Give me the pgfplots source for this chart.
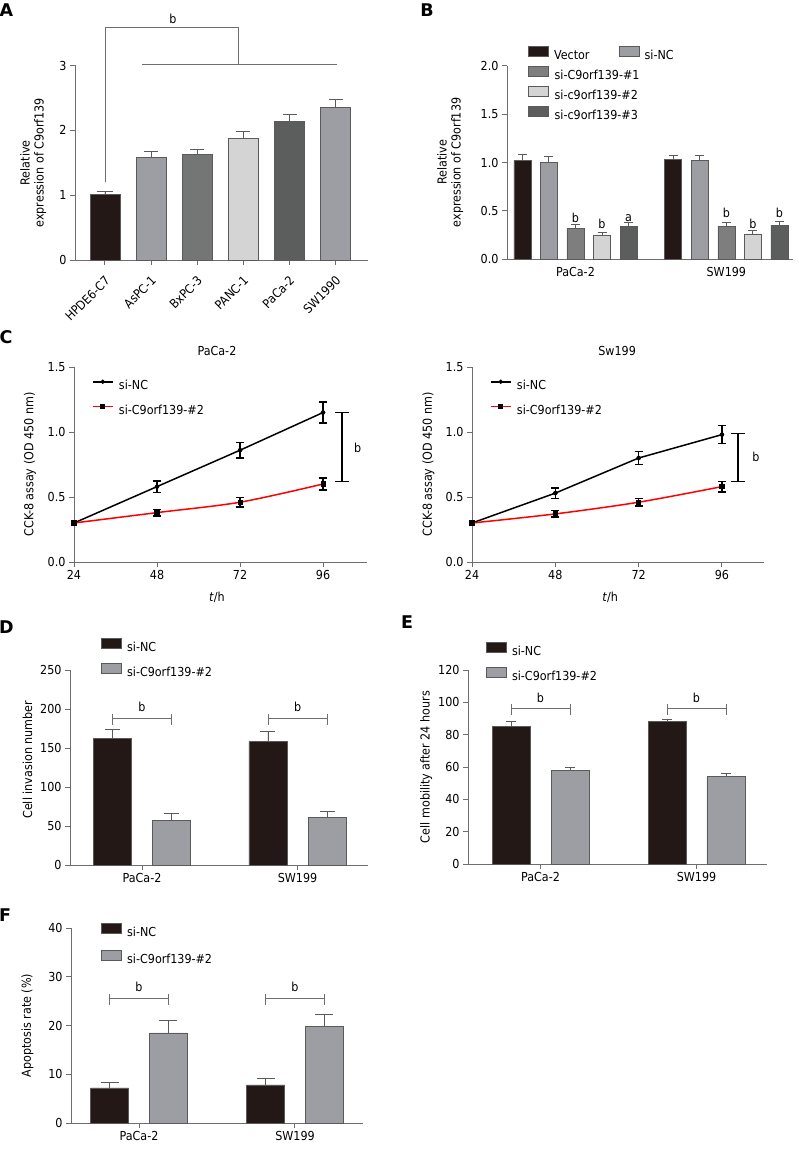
\documentclass[border=0pt]{standalone}
\usepackage{fontspec}
\setmainfont{DejaVu Sans Condensed}
\newfontfamily\panelfont{DejaVu Sans}
\usepackage{pgfplots}
\pgfplotsset{compat=1.18}

\definecolor{barblack}{HTML}{231815}
\definecolor{gmid}{HTML}{9D9EA3}
\definecolor{gdark1}{HTML}{747575}
\definecolor{glight}{HTML}{D4D4D4}
\definecolor{gdark2}{HTML}{5C5D5D}
\definecolor{gone}{HTML}{7E7E7E}
\definecolor{axgray}{HTML}{6E6E6E}
\definecolor{outl}{HTML}{5A5A5A}

\newcommand\tf{\fontsize{12.4}{14}\selectfont}
\newcommand\pf{\panelfont\bfseries\fontsize{17.5}{19}\selectfont}

\tikzset{brk/.style={draw=axgray, line width=0.9pt}}

\pgfplotsset{
 panel/.style={
  scale only axis, anchor=south west, clip=false,
  axis lines=left, axis line style={-, draw=axgray, line width=1pt},
  tick style={draw=axgray, line width=1pt},
  major tick length=5pt, tick align=outside,
  /pgf/number format/assume math mode=true,
  tick label style={font=\tf, text=black},
  label style={font=\tf},
  title style={font=\tf},
  legend style={draw=none, fill=none, inner sep=0pt, outer sep=0pt, anchor=north west, font=\tf,
    nodes={inner sep=0pt, text height=9pt, text depth=1pt},
    /tikz/every odd column/.append style={column sep=5.5pt}},
  legend cell align=left,
 },
 barleg/.style={legend image code/.code={\draw[##1] (0pt,-1pt) rectangle (20pt,9pt);}},
 lineleg/.style={legend image code/.code={\draw[mark repeat=2, mark phase=2, ##1] plot coordinates {(0pt,4pt) (10pt,4pt) (20pt,4pt)};}},
 mybar/.style={ybar, barleg, draw=outl, line width=0.6pt, bar shift=0pt},
 ebar/.style={error bars/.cd, y dir=plus, y explicit, error bar style={draw=outl, line width=0.9pt}, error mark options={rotate=90, draw=outl, line width=0.9pt, mark size=#1}},
 lebar/.style={error bars/.cd, y dir=both, y explicit, error bar style={draw=black, line width=1.5pt}, error mark options={rotate=90, draw=black, line width=1.5pt, mark size=4pt}},
}

\begin{document}
\begin{tikzpicture}[x=1pt,y=1pt]
\useasboundingbox (0,0) rectangle (798,-1150);

% ---------------- Panel A ----------------
\node[font=\pf] at (6.5,-10.5) {A};
\begin{axis}[panel, at={(75pt,-260pt)}, width=293pt, height=194.5pt,
  xmin=-0.65, xmax=5.7, ymin=0, ymax=3, ytick={0,1,2,3},
  xtick={0,1,2,3,4,5}, xticklabels={HPDE6-C7,AsPC-1,BxPC-3,PANC-1,PaCa-2,SW1990},
  xticklabel style={xshift=5pt, yshift=-11pt, rotate=45, anchor=east},
  ylabel={Relative\\expression of C9orf139},
  ylabel style={align=center, at={(axis description cs:-0.143,0.5)}, anchor=center}]
\addplot[mybar, bar width=30pt, fill=barblack, ebar=8pt] coordinates {(0,1.02) +- (0,0.04)};
\addplot[mybar, bar width=30pt, fill=gmid, ebar=7pt] coordinates {(1,1.58) +- (0,0.09)};
\addplot[mybar, bar width=30pt, fill=gdark1, ebar=7pt] coordinates {(2,1.63) +- (0,0.07)};
\addplot[mybar, bar width=30pt, fill=glight, ebar=7pt] coordinates {(3,1.88) +- (0,0.11)};
\addplot[mybar, bar width=30pt, fill=gdark2, ebar=7pt] coordinates {(4,2.14) +- (0,0.11)};
\addplot[mybar, bar width=30pt, fill=gmid, ebar=7pt] coordinates {(5,2.35) +- (0,0.13)};
\draw[brk] (axis cs:0,1.2) -- (axis cs:0,3.58) -- (axis cs:2.9,3.58) -- (axis cs:2.9,3.02);
\draw[brk] (axis cs:0.8,3.02) -- (axis cs:5.02,3.02);
\node[font=\tf] at (axis cs:1.47,3.72) {b};
\end{axis}

% ---------------- Panel B ----------------
\node[font=\pf] at (427,-10) {B};
\begin{axis}[panel, at={(507pt,-259pt)}, width=286pt, height=193pt,
  xmin=0.546, xmax=2.442, ymin=0, ymax=2, ytick={0,0.5,1,1.5,2},
  yticklabel style={/pgf/number format/.cd, fixed, fixed zerofill, precision=1},
  xtick={1,2}, xticklabels={PaCa-2,SW199}, major x tick style={draw=none},
  ylabel={Relative\\expression of C9orf139},
  ylabel style={align=center, at={(axis description cs:-0.199,0.5)}, anchor=center},
  legend columns=2,
  legend style={at={(axis description cs:0.0734,1.104)}, row sep=5.7pt,
    /tikz/every even column/.append style={column sep=29pt}}]
\addplot[mybar, bar width=17pt, fill=barblack, ebar=4.5pt] coordinates {(0.648,1.02) +- (0,0.06) (1.648,1.03) +- (0,0.04)};
\addlegendentry{Vector}
\addplot[mybar, bar width=17pt, fill=gmid, ebar=4.5pt] coordinates {(0.824,1.00) +- (0,0.06) (1.824,1.02) +- (0,0.05)};
\addlegendentry{si-NC}
\addplot[mybar, bar width=17pt, fill=gone, ebar=4.5pt] coordinates {(1,0.32) +- (0,0.04) (2,0.34) +- (0,0.04)};
\addlegendentry{\makebox[0pt][l]{si-C9orf139-\#1}}
\addlegendimage{empty legend}\addlegendentry{}
\addplot[mybar, bar width=17pt, fill=glight, ebar=4.5pt] coordinates {(1.176,0.25) +- (0,0.02) (2.176,0.26) +- (0,0.04)};
\addlegendentry{\makebox[0pt][l]{si-c9orf139-\#2}}
\addlegendimage{empty legend}\addlegendentry{}
\addplot[mybar, bar width=17pt, fill=gdark2, ebar=4.5pt] coordinates {(1.352,0.34) +- (0,0.04) (2.352,0.35) +- (0,0.04)};
\addlegendentry{\makebox[0pt][l]{si-c9orf139-\#3}}
\node[font=\tf] at (axis cs:1,0.425) {b};
\node[font=\tf] at (axis cs:1.176,0.36) {b};
\node[font=\tf] at (axis cs:1.352,0.42) {a};
\node[font=\tf] at (axis cs:2,0.48) {b};
\node[font=\tf] at (axis cs:2.176,0.36) {b};
\node[font=\tf] at (axis cs:2.352,0.48) {b};
\end{axis}

% ---------------- Panel C left ----------------
\node[font=\pf] at (6,-337.5) {C};
\begin{axis}[panel, at={(74pt,-562pt)}, width=293pt, height=195pt,
  xmin=24, xmax=108.7, ymin=0, ymax=1.5, xtick={24,48,72,96}, ytick={0,0.5,1,1.5},
  yticklabel style={/pgf/number format/.cd, fixed, fixed zerofill, precision=1},
  title={PaCa-2}, title style={at={(axis description cs:0.488,1.051)}, anchor=center, inner sep=0pt},
  xlabel={\textit{t}/h}, xlabel style={at={(axis description cs:0.488,-0.18)}, anchor=center},
  ylabel={CCK-8 assay (OD 450 nm)}, ylabel style={at={(axis description cs:-0.150,0.5)}, anchor=center},
  lineleg, legend style={at={(axis description cs:0.0614,0.931)}, row sep=14pt}]
\addplot[black, line width=1.5pt, mark=*, mark size=1.3pt] coordinates {(24,0.30) (48,0.58) (72,0.86) (96,1.15)};
\addlegendentry{si-NC}
\addplot[red, line width=1.5pt, smooth, mark=square*, mark size=1.8pt, mark options={draw=black, fill=black}] coordinates {(24,0.30) (48,0.38) (72,0.46) (96,0.60)};
\addlegendentry{si-C9orf139-\#2}
\addplot[forget plot, only marks, mark=none, lebar] coordinates {(48,0.58) +- (0,0.045) (72,0.86) +- (0,0.06) (96,1.15) +- (0,0.08)};
\addplot[forget plot, only marks, mark=none, lebar] coordinates {(48,0.38) +- (0,0.025) (72,0.46) +- (0,0.035) (96,0.60) +- (0,0.045)};
\draw[black, line width=1.5pt] (axis cs:101.5,1.15) -- (axis cs:101.5,0.62);
\draw[black, line width=1.5pt] ([xshift=-7pt]axis cs:101.5,1.15) -- ([xshift=7pt]axis cs:101.5,1.15);
\draw[black, line width=1.5pt] ([xshift=-7pt]axis cs:101.5,0.62) -- ([xshift=7pt]axis cs:101.5,0.62);
\node[font=\tf] at (axis cs:106,0.88) {b};
\end{axis}

% ---------------- Panel C right ----------------
\begin{axis}[panel, at={(472pt,-562pt)}, width=292pt, height=195pt,
  xmin=24, xmax=108.1, ymin=0, ymax=1.5, xtick={24,48,72,96}, ytick={0,0.5,1,1.5},
  yticklabel style={/pgf/number format/.cd, fixed, fixed zerofill, precision=1},
  title={Sw199}, title style={at={(axis description cs:0.497,1.051)}, anchor=center, inner sep=0pt},
  xlabel={\textit{t}/h}, xlabel style={at={(axis description cs:0.473,-0.18)}, anchor=center},
  ylabel={CCK-8 assay (OD 450 nm)}, ylabel style={at={(axis description cs:-0.149,0.5)}, anchor=center},
  lineleg, legend style={at={(axis description cs:0.0616,0.931)}, row sep=14pt}]
\addplot[black, line width=1.5pt, mark=*, mark size=1.3pt] coordinates {(24,0.30) (48,0.53) (72,0.80) (96,0.98)};
\addlegendentry{si-NC}
\addplot[red, line width=1.5pt, smooth, mark=square*, mark size=1.8pt, mark options={draw=black, fill=black}] coordinates {(24,0.30) (48,0.37) (72,0.46) (96,0.58)};
\addlegendentry{si-C9orf139-\#2}
\addplot[forget plot, only marks, mark=none, lebar] coordinates {(48,0.53) +- (0,0.04) (72,0.80) +- (0,0.05) (96,0.98) +- (0,0.07)};
\addplot[forget plot, only marks, mark=none, lebar] coordinates {(48,0.37) +- (0,0.025) (72,0.46) +- (0,0.03) (96,0.58) +- (0,0.04)};
\draw[black, line width=1.5pt] (axis cs:100.6,0.99) -- (axis cs:100.6,0.62);
\draw[black, line width=1.5pt] ([xshift=-7pt]axis cs:100.6,0.99) -- ([xshift=7pt]axis cs:100.6,0.99);
\draw[black, line width=1.5pt] ([xshift=-7pt]axis cs:100.6,0.62) -- ([xshift=7pt]axis cs:100.6,0.62);
\node[font=\tf] at (axis cs:105.8,0.81) {b};
\end{axis}

% ---------------- Panel D ----------------
\node[font=\pf] at (6.5,-627.5) {D};
\begin{axis}[panel, at={(70pt,-865pt)}, width=298pt, height=195pt,
  xmin=0.537, xmax=2.453, ymin=0, ymax=250, ytick={0,50,100,150,200,250},
  xtick={1,2}, xticklabels={PaCa-2,SW199},
  ylabel={Cell invasion number}, ylabel style={at={(axis description cs:-0.143,0.54)}, anchor=center},
  legend style={at={(axis description cs:0.104,1.164)}, row sep=11pt}]
\addplot[mybar, bar width=38pt, fill=barblack, ebar=7.5pt] coordinates {(0.81,162) +- (0,12) (1.81,158) +- (0,13)};
\addlegendentry{si-NC}
\addplot[mybar, bar width=38pt, fill=gmid, ebar=7.5pt] coordinates {(1.19,57) +- (0,9) (2.19,61) +- (0,8)};
\addlegendentry{si-C9orf139-\#2}
\draw[brk] (axis cs:0.81,188) -- (axis cs:1.19,188);
\draw[brk] ([yshift=4pt]axis cs:0.81,188) -- ([yshift=-7pt]axis cs:0.81,188);
\draw[brk] ([yshift=4pt]axis cs:1.19,188) -- ([yshift=-7pt]axis cs:1.19,188);
\node[font=\tf] at (axis cs:1,203) {b};
\draw[brk] (axis cs:1.81,188) -- (axis cs:2.19,188);
\draw[brk] ([yshift=4pt]axis cs:1.81,188) -- ([yshift=-7pt]axis cs:1.81,188);
\draw[brk] ([yshift=4pt]axis cs:2.19,188) -- ([yshift=-7pt]axis cs:2.19,188);
\node[font=\tf] at (axis cs:2,203) {b};
\end{axis}

% ---------------- Panel E ----------------
\node[font=\pf] at (407,-622) {E};
\begin{axis}[panel, at={(468pt,-864pt)}, width=299pt, height=194pt,
  xmin=0.535, xmax=2.452, ymin=0, ymax=120, ytick={0,20,40,60,80,100,120},
  xtick={1,2}, xticklabels={PaCa-2,SW199},
  ylabel={Cell mobility after 24 hours}, ylabel style={at={(axis description cs:-0.140,0.5)}, anchor=center},
  legend style={at={(axis description cs:0.060,1.144)}, row sep=11pt}]
\addplot[mybar, bar width=38pt, fill=barblack, ebar=5pt] coordinates {(0.811,85) +- (0,3) (1.811,88) +- (0,1.3)};
\addlegendentry{si-NC}
\addplot[mybar, bar width=38pt, fill=gmid, ebar=5pt] coordinates {(1.189,58) +- (0,2) (2.189,54) +- (0,2.3)};
\addlegendentry{si-C9orf139-\#2}
\draw[brk] (axis cs:0.811,96.5) -- (axis cs:1.189,96.5);
\draw[brk] ([yshift=4pt]axis cs:0.811,96.5) -- ([yshift=-7pt]axis cs:0.811,96.5);
\draw[brk] ([yshift=4pt]axis cs:1.189,96.5) -- ([yshift=-7pt]axis cs:1.189,96.5);
\node[font=\tf] at (axis cs:1,103) {b};
\draw[brk] (axis cs:1.811,96.5) -- (axis cs:2.189,96.5);
\draw[brk] ([yshift=4pt]axis cs:1.811,96.5) -- ([yshift=-7pt]axis cs:1.811,96.5);
\draw[brk] ([yshift=4pt]axis cs:2.189,96.5) -- ([yshift=-7pt]axis cs:2.189,96.5);
\node[font=\tf] at (axis cs:2,103) {b};
\end{axis}

% ---------------- Panel F ----------------
\node[font=\pf] at (5,-915) {F};
\begin{axis}[panel, at={(71pt,-1123pt)}, width=292pt, height=195pt,
  xmin=0.564, xmax=2.436, ymin=0, ymax=40, ytick={0,10,20,30,40},
  xtick={1,2}, xticklabels={PaCa-2,SW199},
  ylabel={Apoptosis rate (\%)}, ylabel style={at={(axis description cs:-0.149,0.5)}, anchor=center},
  legend style={at={(axis description cs:0.103,1.026)}, row sep=13pt}]
\addplot[mybar, bar width=38pt, fill=barblack, ebar=9pt] coordinates {(0.811,7.2) +- (0,1.2) (1.811,7.8) +- (0,1.3)};
\addlegendentry{si-NC}
\addplot[mybar, bar width=38pt, fill=gmid, ebar=9pt] coordinates {(1.189,18.5) +- (0,2.5) (2.189,19.8) +- (0,2.4)};
\addlegendentry{si-C9orf139-\#2}
\draw[brk] (axis cs:0.811,25.6) -- (axis cs:1.189,25.6);
\draw[brk] ([yshift=4pt]axis cs:0.811,25.6) -- ([yshift=-7pt]axis cs:0.811,25.6);
\draw[brk] ([yshift=4pt]axis cs:1.189,25.6) -- ([yshift=-7pt]axis cs:1.189,25.6);
\node[font=\tf] at (axis cs:1,27.9) {b};
\draw[brk] (axis cs:1.811,25.6) -- (axis cs:2.189,25.6);
\draw[brk] ([yshift=4pt]axis cs:1.811,25.6) -- ([yshift=-7pt]axis cs:1.811,25.6);
\draw[brk] ([yshift=4pt]axis cs:2.189,25.6) -- ([yshift=-7pt]axis cs:2.189,25.6);
\node[font=\tf] at (axis cs:2,27.9) {b};
\end{axis}
\end{tikzpicture}
\end{document}
